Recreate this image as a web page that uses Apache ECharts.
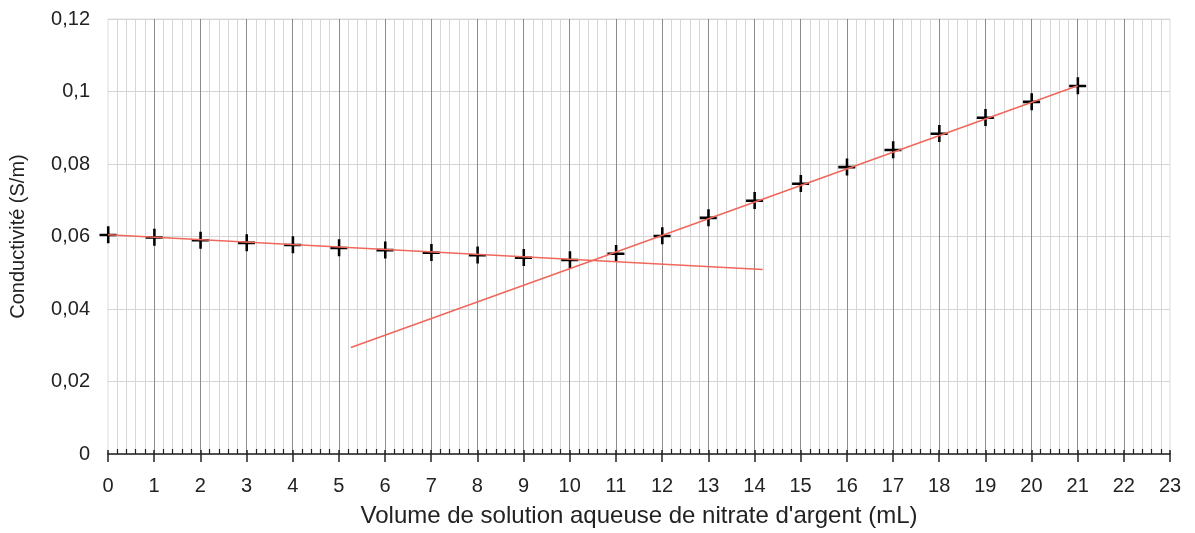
<!DOCTYPE html>
<html>
<head>
<meta charset="utf-8">
<script src="https://cdn.jsdelivr.net/npm/echarts@6/dist/echarts.min.js"></script>
<style>
  html, body { margin: 0; padding: 0; background: #fff; }
  #chart { width: 1195px; height: 533px; }
</style>
</head>
<body>
<div id="chart"></div>
<script>
// volume (mL) et conductivité (S/m)
const volumes = [0, 1, 2, 3, 4, 5, 6, 7, 8, 9, 10, 11, 12, 13, 14, 15, 16, 17, 18, 19, 20, 21];
const conductivite = [
  0.0605, 0.0598, 0.0590, 0.0583, 0.0577, 0.0569, 0.0563, 0.0556, 0.0549, 0.0542, 0.0536,
  0.0553, 0.0602, 0.0652, 0.0699, 0.0746, 0.0792, 0.0839, 0.0884, 0.0928, 0.0972, 0.1016
];
// droites de tendance (extrémités)
const droite1 = [[0, 0.0605], [14.18, 0.0509]];
const droite2 = [[5.26, 0.0294], [21, 0.1016]];

const xTitle = "Volume de solution aqueuse de nitrate d'argent (mL)";
const yTitle = 'Conductivité (S/m)';

const chart = echarts.init(document.getElementById('chart'));

const fmt = v => String(+v.toFixed(2)).replace('.', ',');
const font = 'Liberation Sans, Arial, sans-serif';

const option = {
  animation: false,
  grid: {
    left: 107, right: 25, top: 19, bottom: 77,
    show: true, borderColor: '#dcdcdc', borderWidth: 1
  },
  xAxis: [{
    type: 'value',
    min: 0, max: 23, interval: 1,
    name: xTitle,
    nameLocation: 'middle',
    nameGap: 50,
    nameTextStyle: { fontSize: 24, color: '#222', fontFamily: font },
    axisLine: { onZero: false, lineStyle: { color: '#222', width: 1.5 } },
    axisTick: { length: 8, lineStyle: { color: '#222', width: 1.5 } },
    axisLabel: { fontSize: 20, color: '#222', fontFamily: font, margin: 22 },
    splitLine: { show: true, showMinLine: false, showMaxLine: false, lineStyle: { color: '#8c8c8c', width: 1 } },
    minorTick: { show: false, splitNumber: 5 },
    minorSplitLine: { show: true, lineStyle: { color: '#d6d6d6', width: 1 } }
  }, {
    // ticks vers l'intérieur
    type: 'value',
    position: 'bottom',
    min: 0, max: 23, interval: 1,
    axisLine: { show: false, onZero: false },
    axisTick: { inside: true, length: 4, lineStyle: { color: '#222', width: 1.5 } },
    axisLabel: { show: false },
    splitLine: { show: false },
    minorTick: { show: true, splitNumber: 5, length: 5, lineStyle: { color: '#222', width: 1.2 } }
  }],
  yAxis: {
    type: 'value',
    min: 0, max: 0.12, interval: 0.02,
    name: yTitle,
    nameLocation: 'middle',
    nameGap: 80,
    nameTextStyle: { fontSize: 20, color: '#222', fontFamily: font },
    axisLine: { show: false },
    axisTick: { show: false },
    axisLabel: { fontSize: 20, color: '#222', fontFamily: font, margin: 18, formatter: fmt },
    splitLine: { lineStyle: { color: '#d6d6d6', width: 1 } }
  },
  series: [{
    type: 'scatter',
    data: volumes.map((v, i) => [v, conductivite[i]]),
    symbol: 'path://M7,0h2.4v16h-2.4zM0,7h16v2.4h-16z',
    symbolSize: [17, 17],
    itemStyle: { color: '#000', opacity: 1 },
    z: 3
  }, {
    type: 'line',
    data: droite1,
    showSymbol: false,
    lineStyle: { color: '#f0675b', width: 1.6 },
    z: 4
  }, {
    type: 'line',
    data: droite2,
    showSymbol: false,
    lineStyle: { color: '#f0675b', width: 1.6 },
    z: 4
  }]
};

chart.setOption(option);
</script>
</body>
</html>
